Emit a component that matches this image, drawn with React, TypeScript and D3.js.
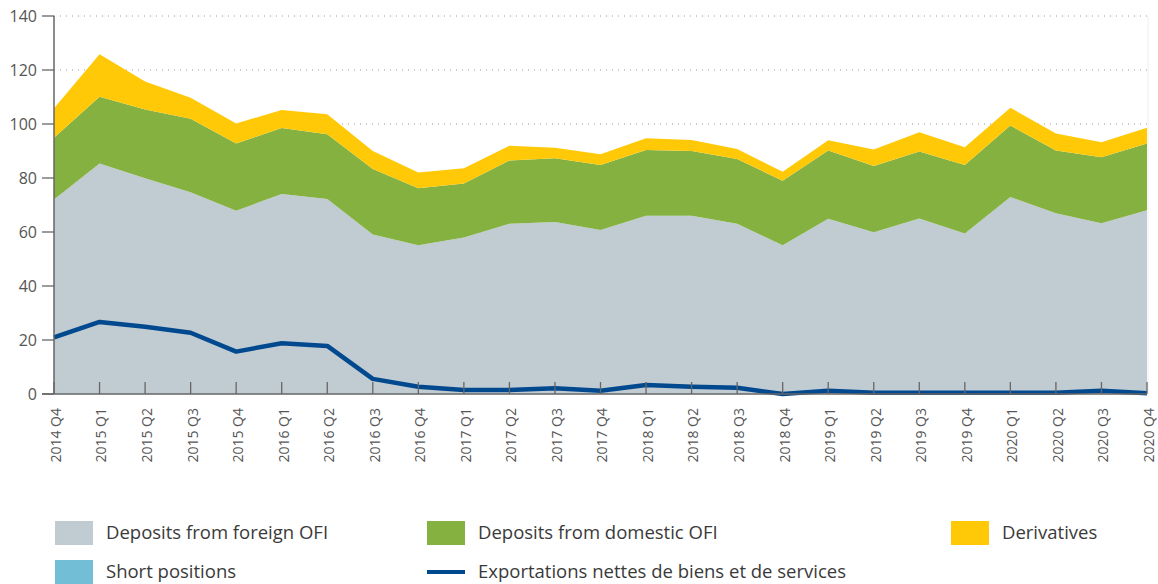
import React from "react";
import * as d3 from "d3";

const categories = [
  "2014 Q4", "2015 Q1", "2015 Q2", "2015 Q3", "2015 Q4", "2016 Q1", "2016 Q2", "2016 Q3",
  "2016 Q4", "2017 Q1", "2017 Q2", "2017 Q3", "2017 Q4", "2018 Q1", "2018 Q2", "2018 Q3",
  "2018 Q4", "2019 Q1", "2019 Q2", "2019 Q3", "2019 Q4", "2020 Q1", "2020 Q2", "2020 Q3", "2020 Q4",
];

const foreignOFI = [72, 85.4, 79.9, 74.7, 67.9, 74.1, 72.2, 59.1, 55.1, 58, 63.1, 63.7, 60.7, 66, 66, 63.1, 55.1, 64.9, 59.9, 65, 59.4, 73, 66.9, 63.2, 68.1];
const domesticOFI = [22.9, 24.7, 25.5, 27.2, 24.9, 24.4, 24, 24.2, 21.1, 20, 23.4, 23.6, 24.1, 24.4, 24, 23.9, 23.9, 25.3, 24.5, 24.8, 25.4, 26.4, 23.3, 24.5, 24.7];
const derivatives = [10.9, 15.7, 10.3, 7.8, 7.4, 6.7, 7.4, 6.7, 5.8, 5.6, 5.4, 3.9, 4.0, 4.3, 4.1, 3.7, 3.3, 3.8, 6.2, 7.1, 6.6, 6.6, 6.3, 5.5, 5.8];
const shortPositions = [0, 0, 0, 0, 0, 0, 0, 0, 0, 0, 0, 0, 0, 0, 0, 0, 0, 0, 0, 0, 0, 0, 0, 0, 0];
const netExports = [21, 26.7, 24.9, 22.7, 15.7, 18.8, 17.8, 5.6, 2.7, 1.5, 1.5, 2.1, 1.2, 3.3, 2.7, 2.3, 0, 1.2, 0.5, 0.5, 0.5, 0.5, 0.5, 1.2, 0.3];
const yTicks = [0, 20, 40, 60, 80, 100, 120, 140];

const seriesKeys = ["foreign", "domestic", "derivatives", "short"];
const seriesNames = ["Deposits from foreign OFI", "Deposits from domestic OFI", "Derivatives", "Short positions"];
const seriesColors = ["#C0CBD2", "#84B140", "#FFC907", "#71BED6"];
const lineName = "Exportations nettes de biens et de services";
const lineColor = "#00498F";

const W = 1158;
const H = 584;
const left = 54;
const right = 1147;
const top = 16;
const bottom = 394;
const FONT = "'Open Sans', 'Noto Sans', sans-serif";

export default function App() {
  const x = d3.scalePoint<string>().domain(categories).range([left, right]);
  const y = d3.scaleLinear().domain([0, 140]).range([bottom, top]);

  const table = categories.map((c, i) => ({
    cat: c,
    foreign: foreignOFI[i],
    domestic: domesticOFI[i],
    derivatives: derivatives[i],
    short: shortPositions[i],
  }));
  const stacked = d3.stack<any>().keys(seriesKeys)(table);
  const area = d3
    .area<any>()
    .x((d) => x(d.data.cat) as number)
    .y0((d) => y(d[0]))
    .y1((d) => y(d[1]));
  const line = d3
    .line<number>()
    .x((_, i) => x(categories[i]) as number)
    .y((d) => y(d));

  const legendItems = [
    { name: seriesNames[0], color: seriesColors[0], x: 55, y: 533, type: "box" },
    { name: seriesNames[1], color: seriesColors[1], x: 427, y: 533, type: "box" },
    { name: seriesNames[2], color: seriesColors[2], x: 951, y: 533, type: "box" },
    { name: seriesNames[3], color: seriesColors[3], x: 55, y: 572, type: "box" },
    { name: lineName, color: lineColor, x: 427, y: 572, type: "line" },
  ];

  return (
    <svg
      width={W}
      height={H}
      style={{ position: "absolute", left: 0, top: 0, background: "#fff" }}
      fontFamily={FONT}
    >
      {/* gridlines */}
      {yTicks
        .filter((t) => t > 0)
        .map((t) => (
          <line
            key={"g" + t}
            x1={left}
            x2={right}
            y1={y(t)}
            y2={y(t)}
            stroke="#9a9a9a"
            strokeWidth={1}
            strokeDasharray="1 5"
          />
        ))}
      <line x1={right + 1} x2={right + 1} y1={top} y2={bottom} stroke="#eeeeee" strokeWidth={1} />
      {/* areas */}
      {stacked.map((s, i) => (
        <path key={s.key} d={area(s) as string} fill={seriesColors[i]} />
      ))}
      {/* line */}
      <path d={line(netExports) as string} fill="none" stroke={lineColor} strokeWidth={4.5} strokeLinejoin="round" />
      {/* x ticks (inside, upward) */}
      {categories.map((c) => (
        <line key={"xt" + c} x1={x(c)} x2={x(c)} y1={bottom} y2={bottom - 12} stroke="#666" strokeWidth={1.3} />
      ))}
      {/* axes */}
      <line x1={left} x2={left} y1={top} y2={bottom} stroke="#666" strokeWidth={1.5} />
      <line x1={left - 12} x2={right} y1={bottom} y2={bottom} stroke="#666" strokeWidth={1.5} />
      {/* y ticks & labels */}
      {yTicks.map((t) => (
        <g key={"yt" + t}>
          <line x1={left - 12} x2={left} y1={y(t)} y2={y(t)} stroke="#666" strokeWidth={1.3} />
          <text x={37} y={y(t)} dy="0.35em" textAnchor="end" fontSize={16} fill="#555">
            {t}
          </text>
        </g>
      ))}
      {/* x labels */}
      {categories.map((c) => (
        <text
          key={"xl" + c}
          transform={`translate(${(x(c) as number) + 2},${bottom + 14}) rotate(-90)`}
          textAnchor="end"
          dy="0.35em"
          fontSize={14}
          fill="#555"
        >
          {c}
        </text>
      ))}
      {/* legend */}
      {legendItems.map((it) => (
        <g key={it.name}>
          {it.type === "box" ? (
            <rect x={it.x} y={it.y - 12} width={38} height={24} fill={it.color} />
          ) : (
            <line x1={it.x} x2={it.x + 38} y1={it.y} y2={it.y} stroke={it.color} strokeWidth={4} />
          )}
          <text x={it.x + 51} y={it.y} dy="0.33em" fontSize={18.5} fill="#3a3a3a">
            {it.name}
          </text>
        </g>
      ))}
    </svg>
  );
}
